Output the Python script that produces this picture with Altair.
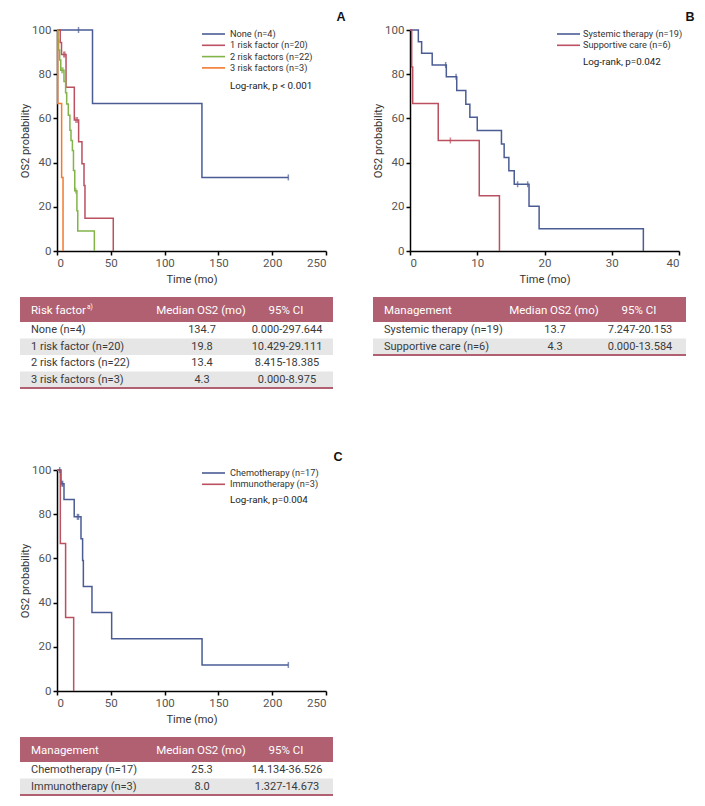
import altair as alt
import pandas as pd

FONT = "Roboto, Liberation Sans, sans-serif"
LETTER_FONT = "Liberation Sans, Arial, sans-serif"
HEAD = "#b06070"

# ---------------- Panel A data ----------------
a_names = ["None (n=4)", "1 risk factor (n=20)", "2 risk factors (n=22)", "3 risk factors (n=3)"]
a_colors = ["#4b5c95", "#bb5060", "#82b44a", "#f27a2e"]
a0_t = [0, 33.0, 134.7, 215.0]
a0_s = [100, 66.7, 33.3, 33.3]
a0_c = [20.0, 215.0]
a1_t = [0, 3.0, 4.2, 8.4, 16.1, 20.1, 23.2, 25.1, 26.0, 52.3]
a1_s = [100, 94.4, 88.9, 74.1, 59.3, 49.4, 39.5, 29.6, 14.8, 0]
a1_c = [6.3, 7.3, 17.6, 18.9]
a2_t = [0, 0.8, 1.5, 2.5, 3.5, 6.5, 8.0, 9.0, 10.5, 12.0, 13.0, 14.3, 15.3, 16.5, 18.5, 19.3, 34.7]
a2_s = [100, 95.5, 90.9, 86.4, 81.8, 76.7, 71.6, 66.5, 61.4, 54.6, 50.0, 45.5, 36.4, 27.3, 18.2, 9.1, 0]
a2_c = [4.5, 5.5, 17.5]
a3_t = [0, 0.6, 4.3, 5.6]
a3_s = [100, 66.7, 33.3, 0]
a3_c = []

# ---------------- Panel B data ----------------
b_names = ["Systemic therapy (n=19)", "Supportive care (n=6)"]
b_colors = ["#4b5c95", "#bb5060"]
b0_t = [0, 1.24, 1.73, 3.3, 5.4, 6.95, 8.3, 8.9, 10.0, 13.6, 14.0, 14.7, 15.5, 17.7, 19.2, 34.7]
b0_s = [100, 94.7, 89.5, 84.2, 78.9, 72.6, 66.4, 60.5, 54.5, 48.4, 42.3, 36.3, 30.2, 20.2, 10.1, 0]
b0_c = [5.3, 6.85, 16.0, 17.5]
b1_t = [0, 0.25, 0.4, 4.2, 10.3, 13.3]
b1_s = [100, 83.3, 66.7, 50.0, 25.0, 0]
b1_c = [6.0]

# ---------------- Panel C data ----------------
c_names = ["Chemotherapy (n=17)", "Immunotherapy (n=3)"]
c_colors = ["#4b5c95", "#bb5060"]
c0_t = [0, 3.7, 6.5, 16.0, 22.3, 23.8, 24.5, 32.5, 50.8, 134.8, 215.0]
c0_s = [100, 93.8, 86.7, 78.8, 68.9, 59.0, 47.3, 35.5, 23.6, 11.8, 11.8]
c0_c = [2.5, 4.6, 5.3, 19.0, 20.0, 215.0]
c1_t = [0, 3.1, 8.0, 15.5]
c1_s = [100, 66.7, 33.3, 0]
c1_c = []

# ---------------- Tables ----------------
ta_header = ["Risk factor", "Median OS2 (mo)", "95% CI"]
ta_labels = ["None (n=4)", "1 risk factor (n=20)", "2 risk factors (n=22)", "3 risk factors (n=3)"]
ta_median = ["134.7", "19.8", "13.4", "4.3"]
ta_ci = ["0.000-297.644", "10.429-29.111", "8.415-18.385", "0.000-8.975"]

tb_header = ["Management", "Median OS2 (mo)", "95% CI"]
tb_labels = ["Systemic therapy (n=19)", "Supportive care (n=6)"]
tb_median = ["13.7", "4.3"]
tb_ci = ["7.247-20.153", "0.000-13.584"]

tc_header = ["Management", "Median OS2 (mo)", "95% CI"]
tc_labels = ["Chemotherapy (n=17)", "Immunotherapy (n=3)"]
tc_median = ["25.3", "8.0"]
tc_ci = ["14.134-36.526", "1.327-14.673"]


def steps_df(names, ts, ss):
    rows = []
    for n, t, s in zip(names, ts, ss):
        for i, (ti, si) in enumerate(zip(t, s)):
            rows.append({"series": n, "time": ti, "surv": si, "k": i})
    return pd.DataFrame(rows)


def censor_df(names, ts, ss, cs):
    rows = []
    for n, t, s, c in zip(names, ts, ss, cs):
        for ci in c:
            val = s[0]
            for ti, si in zip(t, s):
                if ti <= ci:
                    val = si
            rows.append({"series": n, "time": ci, "surv": val})
    return pd.DataFrame(rows, columns=["series", "time", "surv"])


PW, PH = 269, 221


def km_panel(names, colors, ts, ss, cs, xmax, xstep, letter, letter_x, logrank, leg_x, leg_y, lr_y):
    col = alt.Color("series:N", scale=alt.Scale(domain=names, range=colors), legend=None)
    xs = alt.X("time:Q", scale=alt.Scale(domain=[0, xmax], nice=False),
               axis=alt.Axis(values=list(range(0, xmax + 1, xstep)), title="Time (mo)"))
    ys = alt.Y("surv:Q", scale=alt.Scale(domain=[0, 100], nice=False),
               axis=alt.Axis(values=[0, 20, 40, 60, 80, 100], title="OS2 probability"))
    lines = alt.Chart(steps_df(names, ts, ss)).mark_line(
        interpolate="step-after", strokeWidth=1.5).encode(x=xs, y=ys, color=col, order="k:Q")
    ticks = alt.Chart(censor_df(names, ts, ss, cs)).mark_tick(
        orient="vertical", size=6, thickness=1.5).encode(x="time:Q", y="surv:Q", color=col)
    layers = [lines, ticks]
    for i, n in enumerate(names):
        d = pd.DataFrame({"series": [n]})
        yy = leg_y + 11.3 * i
        layers.append(alt.Chart(d).mark_rule(strokeWidth=1.6).encode(
            x=alt.value(leg_x), x2=alt.value(leg_x + 23), y=alt.value(yy), color=col))
        layers.append(alt.Chart(d).mark_text(
            align="left", baseline="middle", font=FONT, fontSize=9.2, color="#333").encode(
            x=alt.value(173), y=alt.value(yy), text="series:N"))
    layers.append(alt.Chart(pd.DataFrame({"t": [logrank]})).mark_text(
        align="left", baseline="middle", font=FONT, fontSize=9.8, color="#222").encode(
        x=alt.value(173), y=alt.value(lr_y), text="t:N"))
    layers.append(alt.Chart(pd.DataFrame({"t": [letter]})).mark_text(
        align="center", baseline="alphabetic", font=LETTER_FONT, fontSize=12.5,
        fontWeight="bold", color="#111").encode(
        x=alt.value(letter_x), y=alt.value(-9.5), text="t:N"))
    return alt.layer(*layers).properties(width=PW, height=PH)


H = 25
R = 16.5
TL, TR = -37, 276   # table edges relative to the plot column origin


def table_panel(header, labels, medians, cis, view_h=None, sup=None):
    n = len(labels)
    df = pd.DataFrame({"label": labels, "median": medians, "ci": cis, "r": list(range(n))})
    df["r1"] = df["r"] + 1
    df["rm"] = df["r"] + 0.5
    df["shade"] = (df["r"] % 2) == 1
    ysc = alt.Scale(domain=[0, n], range=[H, H + R * n])
    yenc = alt.Y("rm:Q", scale=ysc, axis=None)
    one = pd.DataFrame({"a": [0]})
    layers = [
        alt.Chart(one).mark_rect(color=HEAD).encode(
            x=alt.value(TL), x2=alt.value(TR), y=alt.value(0), y2=alt.value(H)),
        alt.Chart(df).transform_filter("datum.shade").mark_rect(color="#e6e6e6").encode(
            x=alt.value(TL), x2=alt.value(TR),
            y=alt.Y("r:Q", scale=ysc, axis=None), y2="r1:Q"),
        alt.Chart(one).mark_rule(color=HEAD, strokeWidth=2).encode(
            x=alt.value(TL), x2=alt.value(TR), y=alt.value(H + R * n)),
    ]
    hpos = [(-26, "left"), (144, "center"), (229, "center")]
    for txt, (xp, al) in zip(header, hpos):
        layers.append(alt.Chart(pd.DataFrame({"t": [txt]})).mark_text(
            align=al, baseline="middle", font=FONT, fontSize=11.5, color="white").encode(
            x=alt.value(xp), y=alt.value(H / 2 + 1), text="t:N"))
    if sup:
        layers.append(alt.Chart(pd.DataFrame({"t": [sup]})).mark_text(
            align="left", baseline="middle", font=FONT, fontSize=6.5, color="white").encode(
            x=alt.value(30), y=alt.value(H / 2 - 2.5), text="t:N"))
    bpos = [("label", -26, "left"), ("median", 145, "center"), ("ci", 230, "center")]
    for field, xp, al in bpos:
        layers.append(alt.Chart(df).mark_text(
            align=al, baseline="middle", font=FONT, fontSize=11, color="#3a3a3a").encode(
            x=alt.value(xp), y=yenc, text=f"{field}:N"))
    return alt.layer(*layers).properties(width=PW, height=view_h or (H + R * n))


plotA = km_panel(a_names, a_colors, [a0_t, a1_t, a2_t, a3_t], [a0_s, a1_s, a2_s, a3_s],
                 [a0_c, a1_c, a2_c, a3_c], 250, 50, "A", 284, "Log-rank, p < 0.001", 145, 4, 56)
plotB = km_panel(b_names, b_colors, [b0_t, b1_t], [b0_s, b1_s], [b0_c, b1_c],
                 40, 10, "B", 280, "Log-rank, p=0.042", 147, 4, 32)
plotC = km_panel(c_names, c_colors, [c0_t, c1_t], [c0_s, c1_s], [c0_c, c1_c],
                 250, 50, "C", 281, "Log-rank, p=0.004", 145, 3, 30)

tableA = table_panel(ta_header, ta_labels, ta_median, ta_ci, view_h=127, sup="a)")
tableB = table_panel(tb_header, tb_labels, tb_median, tb_ci)
tableC = table_panel(tc_header, tc_labels, tc_median, tc_ci)

spacer = alt.Chart(pd.DataFrame({"a": [0]})).mark_point(opacity=0).encode(
    x=alt.value(0), y=alt.value(0)).properties(width=10, height=10)

chart = alt.concat(
    plotA, plotB, tableA, tableB, plotC, spacer, tableC,
    columns=2, spacing={"row": 46, "column": 84}, bounds="flush", align="each"
).resolve_scale(color="independent", x="independent", y="independent").properties(
    padding={"left": 11, "top": 2, "right": 0, "bottom": 0}
).configure_view(stroke=None).configure_axis(
    grid=False, domainColor="black", domainWidth=1.5, tickColor="black", tickWidth=1.5,
    tickSize=4, labelColor="#555", labelFont=FONT, labelFontSize=11.5, labelPadding=2,
    titleFont=FONT, titleFontSize=11, titleColor="#333", titleFontWeight="normal"
).configure_axisX(titlePadding=5).configure_axisY(titlePadding=1)

chart.save("out.html", embed_options={"renderer": "svg", "actions": False})
